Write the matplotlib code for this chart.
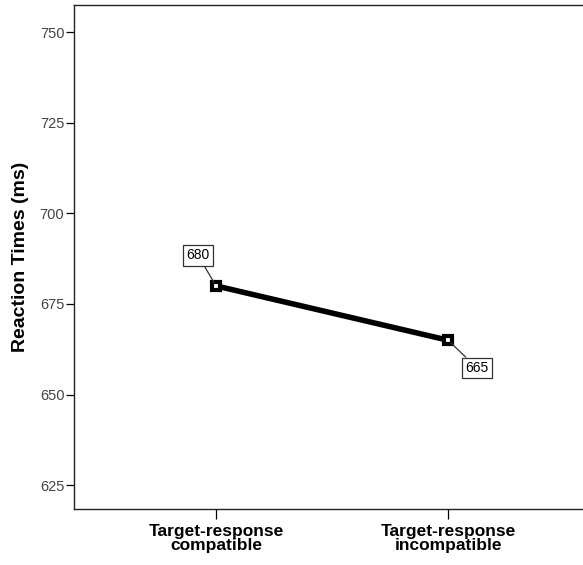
import matplotlib
matplotlib.use("Agg")
import matplotlib.pyplot as plt

plt.rcParams['font.family'] = ['Liberation Sans', 'DejaVu Sans']

conditions = ["Target-response\ncompatible", "Target-response\nincompatible"]
rt_means = [680, 665]
y_ticks = [625, 650, 675, 700, 725, 750]
# label offsets in points (box position relative to the marker)
label_offsets = [(-13, 22), (21, -20)]

fig = plt.figure(figsize=(5.83, 5.65), dpi=100)
ax = fig.add_axes((0.127, 0.099, 0.885, 0.892))

x = list(range(len(conditions)))
ax.plot(x, rt_means, color='black', lw=4, solid_capstyle='butt', zorder=2)
ax.plot(x, rt_means, ls='none', marker='s', ms=6, mfc='white', mec='black',
        mew=3, zorder=3)

for xi, yi, off in zip(x, rt_means, label_offsets):
    ax.annotate(str(yi), xy=(xi, yi), xytext=off, textcoords='offset points',
                ha='center', va='center', fontsize=10,
                bbox=dict(boxstyle='square,pad=0.25', fc='white', ec='#333333', lw=0.9),
                arrowprops=dict(arrowstyle='-', color='#333333', lw=0.9,
                                shrinkA=0, shrinkB=3))

ax.set_xlim(-0.612, 1.612)
ax.set_ylim(618.4, 757.5)
ax.set_xticks(x)
ax.set_xticklabels(conditions, fontsize=12.5, fontweight='bold', linespacing=0.85)
ax.set_yticks(y_ticks)
ax.tick_params(axis='y', labelsize=10.5, labelcolor='#444444', length=6, width=0.9, pad=1)
ax.tick_params(axis='x', length=7, width=0.9, pad=4)
ax.set_ylabel("Reaction Times (ms)", fontsize=14, fontweight='bold', labelpad=8)

for s in ax.spines.values():
    s.set_linewidth(1.0)
    s.set_color('#222222')

fig.savefig("out.png", dpi=100)
